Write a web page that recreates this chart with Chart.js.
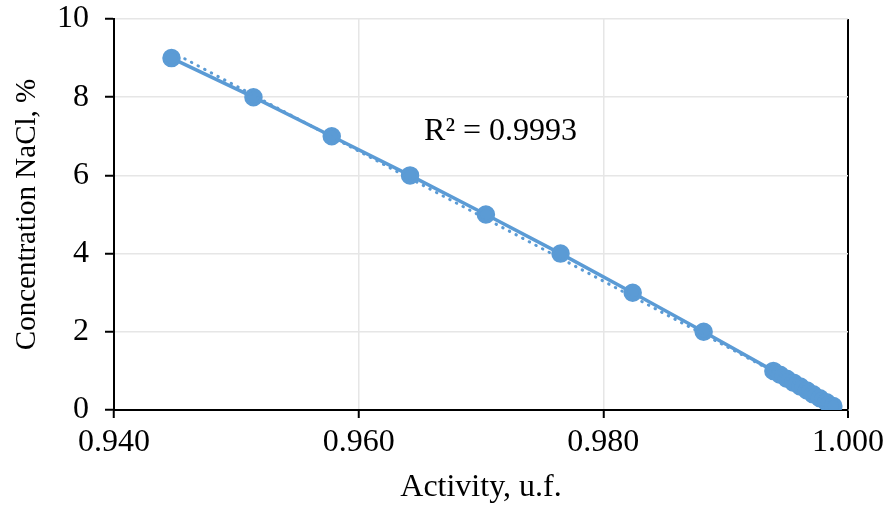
<!DOCTYPE html>
<html>
<head>
<meta charset="utf-8">
<script src="https://cdn.jsdelivr.net/npm/chart.js@4/dist/chart.umd.min.js"></script>
<style>
  html, body { margin: 0; padding: 0; background: #fff; }
  #wrap { width: 888px; height: 507px; }
</style>
</head>
<body>
<div id="wrap"><canvas id="nacl"></canvas></div>
<script>
// water activity vs NaCl concentration
const activity = [0.9447, 0.9514, 0.9578, 0.9642, 0.9704, 0.9765, 0.9824, 0.9882, 0.9939,
  0.99445, 0.9950, 0.99555, 0.9961, 0.99665, 0.99715, 0.9977, 0.99825, 0.9988];
const concentration = [9, 8, 7, 6, 5, 4, 3, 2, 1, 0.9, 0.8, 0.7, 0.6, 0.5, 0.4, 0.3, 0.2, 0.1];
const r2Text = 'R\u00B2 = 0.9993';

const blue = '#5B9BD5';
const gridGray = '#E6E6E6';
const serif = '"Liberation Serif", "Times New Roman", serif';
const fontSize = 32;

// linear trendline (least squares)
const n = activity.length;
const mx = activity.reduce((a, b) => a + b, 0) / n;
const my = concentration.reduce((a, b) => a + b, 0) / n;
let sxy = 0, sxx = 0;
for (let i = 0; i < n; i++) {
  sxy += (activity[i] - mx) * (concentration[i] - my);
  sxx += (activity[i] - mx) * (activity[i] - mx);
}
const slope = sxy / sxx;
const icpt = my - slope * mx;
const xMin = Math.min(...activity), xMax = Math.max(...activity);
const trend = [xMin, xMax].map(x => ({ x: x, y: slope * x + icpt }));

const r2Label = {
  id: 'r2Label',
  afterDatasetsDraw(chart) {
    const { ctx, scales } = chart;
    ctx.save();
    ctx.font = fontSize + 'px ' + serif;
    ctx.fillStyle = '#000';
    ctx.textAlign = 'center';
    ctx.textBaseline = 'middle';
    ctx.fillText(r2Text, scales.x.getPixelForValue(0.9716), scales.y.getPixelForValue(7.13));
    ctx.restore();
  }
};

const isEnd = c => c.tick && Math.abs(c.tick.value - 1.0) < 1e-9;

new Chart(document.getElementById('nacl'), {
  type: 'scatter',
  data: {
    datasets: [
      {
        label: 'Linear',
        data: trend,
        showLine: true,
        borderColor: blue,
        borderWidth: 3,
        borderDash: [0.5, 7],
        borderCapStyle: 'round',
        pointRadius: 0
      },
      {
        label: 'NaCl',
        data: activity.map((x, i) => ({ x: x, y: concentration[i] })),
        showLine: true,
        borderColor: blue,
        borderWidth: 3.5,
        backgroundColor: blue,
        pointBackgroundColor: blue,
        pointBorderColor: blue,
        pointRadius: 7.5,
        pointHoverRadius: 7.5
      }
    ]
  },
  options: {
    responsive: true,
    maintainAspectRatio: false,
    animation: false,
    events: [],
    layout: { padding: { top: 19, right: 40, left: 0, bottom: 0 } },
    plugins: { legend: { display: false }, tooltip: { enabled: false } },
    scales: {
      x: {
        type: 'linear',
        min: 0.94,
        max: 1.0,
        afterFit(s) { s.height = 97; s.paddingLeft = 0; s.paddingRight = 0; },
        ticks: {
          stepSize: 0.02,
          color: '#000',
          font: { family: serif, size: fontSize },
          padding: 5,
          maxRotation: 0,
          callback: v => v.toFixed(3)
        },
        grid: {
          color: c => isEnd(c) ? '#000' : gridGray,
          lineWidth: c => isEnd(c) ? 2 : 1.5,
          tickColor: '#000',
          tickWidth: 2,
          tickLength: 8
        },
        border: { color: '#000', width: 2 },
        title: {
          display: true,
          text: 'Activity, u.f.',
          color: '#000',
          font: { family: serif, size: fontSize },
          padding: { top: 0, bottom: 0 }
        }
      },
      y: {
        min: 0,
        max: 10,
        afterFit(s) { s.width = 114; s.paddingTop = 0; s.paddingBottom = 0; },
        ticks: {
          stepSize: 2,
          color: '#000',
          font: { family: serif, size: fontSize },
          padding: 16
        },
        grid: {
          color: gridGray,
          lineWidth: 1.5,
          tickColor: '#000',
          tickWidth: 2,
          tickLength: 9
        },
        border: { color: '#000', width: 2 },
        title: {
          display: true,
          text: 'Concentration NaCl, %',
          color: '#000',
          font: { family: serif, size: 29 },
          padding: { top: 10, bottom: 0 }
        }
      }
    }
  },
  plugins: [r2Label]
});
</script>
</body>
</html>
